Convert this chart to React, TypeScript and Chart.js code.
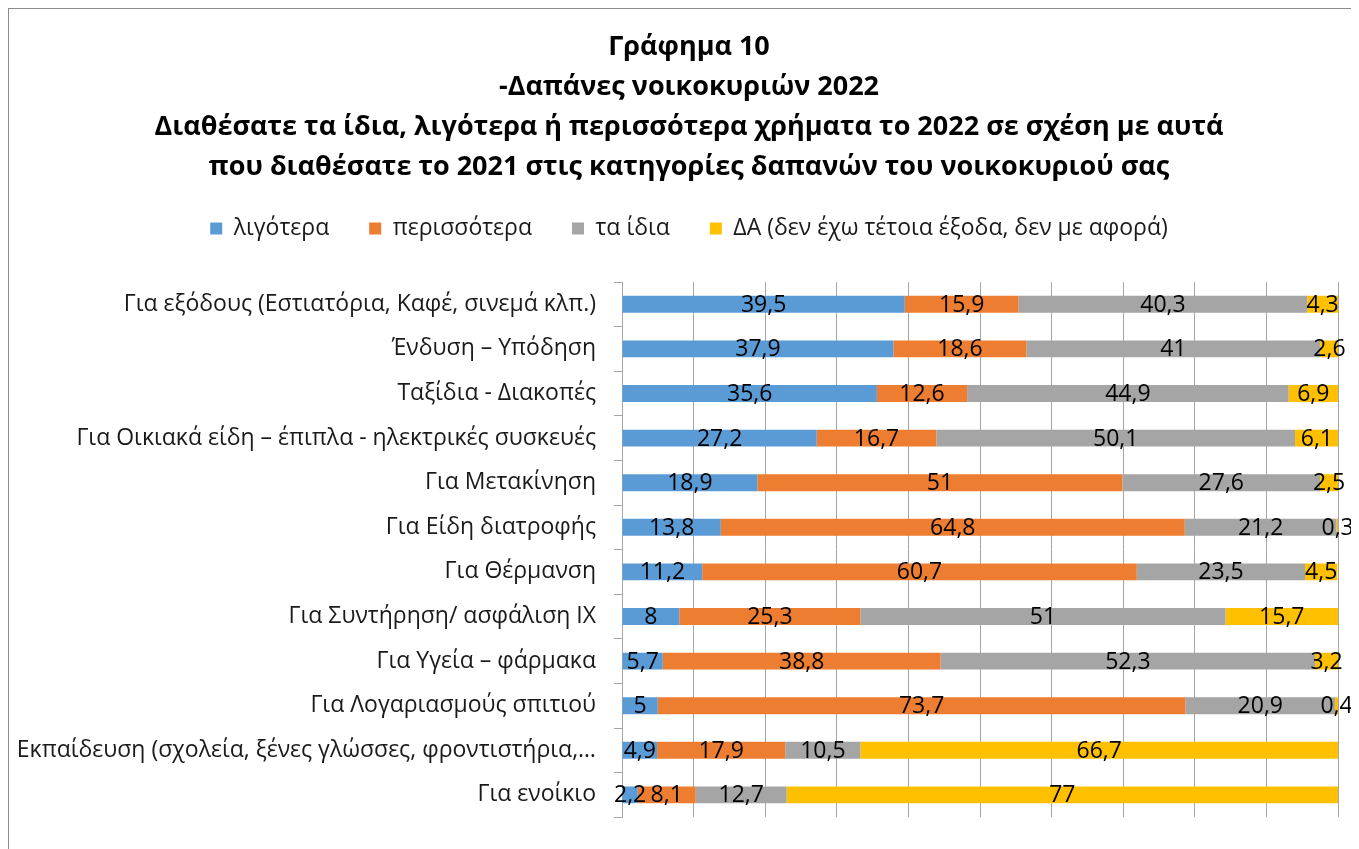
import React, { useEffect, useRef } from "react";
import { Chart, registerables } from "chart.js";

Chart.register(...registerables);

const categories = [
  "Για εξόδους (Εστιατόρια, Καφέ, σινεμά κλπ.)",
  "Ένδυση – Υπόδηση",
  "Ταξίδια - Διακοπές",
  "Για Οικιακά είδη – έπιπλα - ηλεκτρικές συσκευές",
  "Για Μετακίνηση",
  "Για Είδη διατροφής",
  "Για Θέρμανση",
  "Για Συντήρηση/ ασφάλιση ΙΧ",
  "Για Υγεία – φάρμακα",
  "Για Λογαριασμούς σπιτιού",
  "Εκπαίδευση (σχολεία, ξένες γλώσσες, φροντιστήρια,…",
  "Για ενοίκιο",
];

const lessValues = [39.5, 37.9, 35.6, 27.2, 18.9, 13.8, 11.2, 8, 5.7, 5, 4.9, 2.2];
const moreValues = [15.9, 18.6, 12.6, 16.7, 51, 64.8, 60.7, 25.3, 38.8, 73.7, 17.9, 8.1];
const sameValues = [40.3, 41, 44.9, 50.1, 27.6, 21.2, 23.5, 51, 52.3, 20.9, 10.5, 12.7];
const naValues = [4.3, 2.6, 6.9, 6.1, 2.5, 0.3, 4.5, 15.7, 3.2, 0.4, 66.7, 77];

const seriesNames = [
  "λιγότερα",
  "περισσότερα",
  "τα ίδια",
  "ΔΑ (δεν έχω τέτοια έξοδα, δεν με αφορά)",
];
const seriesColors = ["#5B9BD5", "#ED7D31", "#A5A5A5", "#FFC000"];

const titleLines = [
  "Γράφημα 10",
  "-Δαπάνες νοικοκυριών 2022",
  "Διαθέσατε τα ίδια, λιγότερα ή περισσότερα χρήματα το 2022 σε σχέση με αυτά",
  "που διαθέσατε το 2021 στις κατηγορίες δαπανών του νοικοκυριού σας",
];

const FONT = "'Open Sans', 'Noto Sans', sans-serif";

const segLabels = {
  id: "segLabels",
  afterDatasetsDraw(chart: any) {
    const ctx = chart.ctx;
    ctx.save();
    ctx.font = `23px ${FONT}`;
    ctx.fillStyle = "#000";
    ctx.textAlign = "center";
    ctx.textBaseline = "middle";
    chart.data.datasets.forEach((ds: any, i: number) => {
      const meta = chart.getDatasetMeta(i);
      meta.data.forEach((el: any, j: number) => {
        const v = ds.data[j];
        const p = el.getProps(["x", "y", "base"], true);
        const cx = (p.x + p.base) / 2;
        ctx.fillText(String(v).replace(".", ","), cx, p.y + 1);
      });
    });
    ctx.restore();
  },
};

const headerAdjust = {
  id: "headerAdjust",
  beforeInit(chart: any) {
    const legend = chart.legend;
    if (!legend) return;
    const orig = legend.fit;
    legend.fit = function () {
      orig.call(this);
      this.height += 22;
    };
  },
  afterLayout(chart: any) {
    const legend = chart.legend;
    if (legend) {
      legend.top -= 10;
      legend.bottom -= 10;
      legend.left += 31;
    }
    const title = chart.titleBlock;
    if (title) {
      title.left += 31;
    }
  },
};

export default function App() {
  const ref = useRef<HTMLCanvasElement | null>(null);

  useEffect(() => {
    if (!ref.current) return;
    const data = [lessValues, moreValues, sameValues, naValues];
    const chart = new Chart(ref.current, {
      type: "bar",
      data: {
        labels: categories,
        datasets: seriesNames.map((name, i) => ({
          label: name,
          data: data[i],
          backgroundColor: seriesColors[i],
          borderWidth: 0,
          barPercentage: 0.38,
          categoryPercentage: 1,
        })),
      },
      options: {
        indexAxis: "y",
        animation: false,
        responsive: false,
        layout: { padding: { left: 0, right: 21, top: 0, bottom: 21 } },
        scales: {
          x: {
            stacked: true,
            min: 0,
            max: 100,
            ticks: { display: false, stepSize: 10 },
            grid: { color: "#A6A6A6", drawTicks: false, lineWidth: 1 },
            border: { display: false },
            afterFit: (s: any) => {
              s.height = 0;
            },
          },
          y: {
            stacked: true,
            grid: {
              drawOnChartArea: false,
              drawTicks: true,
              tickLength: 8,
              color: "#A6A6A6",
              offset: true,
            },
            border: { display: true, color: "#A6A6A6" },
            ticks: {
              font: { family: FONT, size: 23 },
              color: "#1a1a1a",
              padding: 18,
              autoSkip: false,
            },
            afterFit: (s: any) => {
              s.width = 613;
            },
          },
        },
        plugins: {
          title: {
            display: true,
            text: titleLines,
            color: "#000",
            font: { family: FONT, size: 27, weight: "bold", lineHeight: "40px" },
            padding: { top: 18, bottom: 0 },
          },
          legend: {
            position: "top",
            labels: {
              boxWidth: 12,
              boxHeight: 12,
              color: "#1a1a1a",
              font: { family: FONT, size: 23 },
              padding: 40,
            },
          },
          tooltip: { enabled: false },
        },
      },
      plugins: [segLabels, headerAdjust],
    } as any);
    return () => chart.destroy();
  }, []);

  return (
    <div
      style={{
        width: 1351,
        height: 841,
        boxSizing: "border-box",
        borderTop: "1px solid #8C8C8C",
        borderLeft: "1px solid #8C8C8C",
        background: "#fff",
        overflow: "hidden",
      }}
    >
      <canvas ref={ref} width={1350} height={840} style={{ display: "block" }} />
    </div>
  );
}
